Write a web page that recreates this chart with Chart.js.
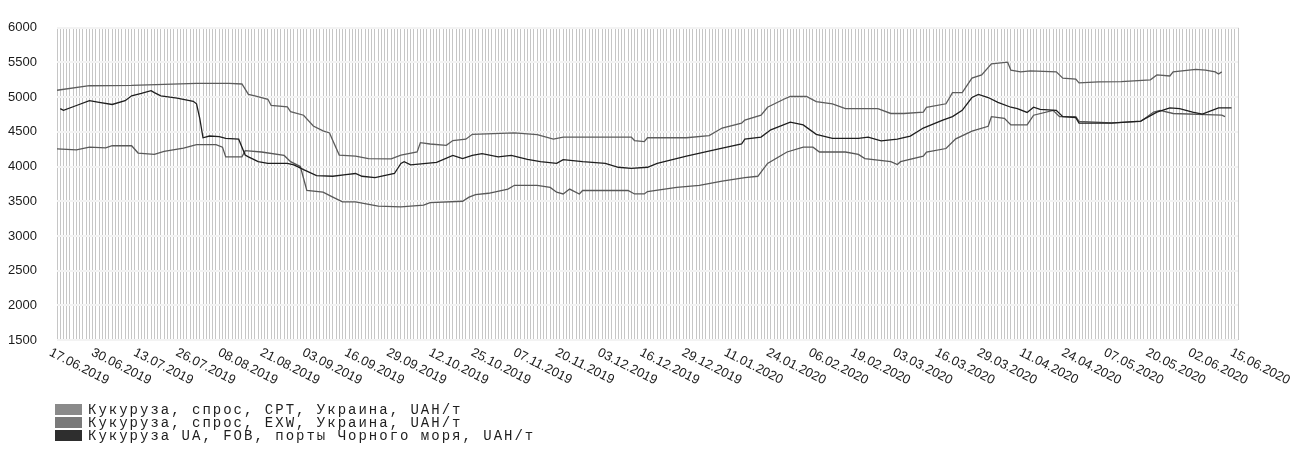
<!DOCTYPE html>
<html>
<head>
<meta charset="utf-8">
<script src="https://cdn.jsdelivr.net/npm/chart.js@4.4.1/dist/chart.umd.min.js"></script>
<style>
  html, body { margin:0; padding:0; background:#fff; overflow:hidden; }
  #wrap { position:relative; width:1302px; height:454px; }
  #legend { position:absolute; left:55px; top:404px; font:14px "Liberation Mono", "Courier New", monospace; letter-spacing:2px; color:#1e1e1e; }
  #legend .row { height:13px; line-height:13px; white-space:nowrap; }
  #legend .box { display:inline-block; width:27px; height:11px; margin-right:6px; vertical-align:-1px; }
</style>
</head>
<body>
<div id="wrap">
  <canvas id="c" width="1302" height="454"></canvas>
  <div id="legend"></div>
</div>
<script>
// ---- data ----
const seriesLabels = [
  "Кукуруза, спрос, CPT, Украина, UAH/т",
  "Кукуруза, спрос, EXW, Украина, UAH/т",
  "Кукуруза UA, FOB, порты Чорного моря, UAH/т"
];
const tickLabels = ["17.06.2019","30.06.2019","13.07.2019","26.07.2019","08.08.2019","21.08.2019","03.09.2019","16.09.2019","29.09.2019","12.10.2019","25.10.2019","07.11.2019","20.11.2019","03.12.2019","16.12.2019","29.12.2019","11.01.2020","24.01.2020","06.02.2020","19.02.2020","03.03.2020","16.03.2020","29.03.2020","11.04.2020","24.04.2020","07.05.2020","20.05.2020","02.06.2020","15.06.2020"];
const tickDays = [0,13,26,39,52,65,78,91,104,117,130,143,156,169,182,195,208,221,234,247,260,273,286,299,312,325,338,351,364];
const yTicks = [1500,2000,2500,3000,3500,4000,4500,5000,5500,6000];

const cptDays   = [0,10,23,43,53,57,59,61,65,66,71,72,76,79,82,84,85,87,92,96,103,106,111,112,115,120,122,126,128,141,148,153,156,177,178,181,182,194,201,205,211,212,217,219,224,226,231,234,239,243,253,257,261,267,268,274,276,279,282,285,288,293,294,297,300,308,310,314,315,321,328,337,339,343,344,351,354,357,358,359];
const cptValues = [5100,5165,5170,5200,5200,5190,5040,5020,4970,4880,4860,4790,4740,4585,4515,4485,4375,4165,4150,4115,4110,4165,4210,4345,4325,4305,4375,4395,4465,4485,4460,4395,4425,4425,4375,4360,4415,4415,4445,4555,4625,4670,4740,4855,4970,5010,5010,4935,4905,4835,4835,4765,4765,4785,4855,4905,5065,5065,5275,5320,5480,5505,5390,5365,5380,5365,5275,5260,5205,5220,5225,5250,5320,5305,5365,5400,5390,5365,5335,5365];

const exwDays   = [0,6,10,15,17,23,25,30,33,39,43,49,51,52,57,58,63,70,72,75,77,82,85,88,92,99,106,113,115,125,127,129,133,139,141,148,152,154,156,158,161,162,176,178,181,182,191,198,205,212,216,219,225,230,233,235,243,247,249,257,259,260,267,268,274,277,282,287,288,292,294,299,301,307,309,314,315,325,334,338,340,344,359,360];
const exwValues = [4255,4240,4280,4270,4300,4300,4195,4175,4220,4265,4315,4315,4280,4140,4140,4230,4210,4160,4070,4000,3655,3630,3560,3490,3490,3430,3420,3445,3480,3500,3560,3595,3615,3675,3730,3730,3700,3630,3605,3675,3605,3655,3655,3605,3605,3640,3700,3730,3790,3840,3860,4045,4210,4280,4280,4210,4210,4175,4115,4070,4030,4070,4150,4210,4260,4400,4510,4580,4720,4695,4600,4600,4740,4810,4720,4720,4650,4630,4650,4785,4810,4765,4740,4720];

const fobDays   = [1,2,6,10,13,17,21,23,26,29,30,32,37,42,43,44,45,47,50,52,56,58,59,62,65,71,73,76,80,85,89,92,94,98,104,106,107,109,117,122,125,128,131,136,140,145,149,154,156,162,169,173,177,182,185,194,204,211,212,217,220,226,230,234,239,247,250,254,259,263,267,273,276,279,282,284,287,290,294,296,299,301,303,308,310,314,315,325,334,339,343,346,350,353,358,362];
const fobValues = [4835,4810,4880,4950,4925,4895,4950,5020,5055,5095,5065,5020,4985,4940,4905,4695,4415,4440,4430,4405,4395,4165,4140,4070,4045,4045,4025,3955,3870,3860,3885,3900,3860,3840,3900,4045,4070,4025,4060,4160,4115,4160,4185,4140,4160,4105,4070,4045,4100,4070,4045,3990,3975,3990,4045,4150,4255,4325,4395,4425,4530,4640,4600,4465,4405,4405,4425,4370,4395,4440,4555,4670,4720,4810,4995,5040,4995,4925,4855,4835,4780,4855,4825,4810,4720,4705,4625,4625,4655,4785,4845,4835,4785,4755,4845,4845];

const lineColors   = ["#5c5c5c", "#585858", "#1e1e1e"];
const legendColors = ["#8a8a8a", "#7a7a7a", "#2e2e2e"];

function pts(days, vals) { return days.map((d, i) => ({ x: d, y: vals[i] })); }

const xLabelPlugin = {
  id: 'xLabels',
  afterDraw(chart) {
    const xs = chart.scales.x, ctx = chart.ctx, top = chart.chartArea.bottom;
    ctx.save();
    ctx.font = '13px "Liberation Sans", Arial, sans-serif';
    ctx.fillStyle = '#1a1a1a';
    ctx.textAlign = 'left';
    ctx.textBaseline = 'top';
    tickLabels.forEach((t, i) => {
      const x = xs.getPixelForValue(tickDays[i]);
      ctx.save();
      ctx.translate(x - 4, top + 6);
      ctx.rotate(27 * Math.PI / 180);
      ctx.fillText(t, 0, 0);
      ctx.restore();
    });
    ctx.restore();
  }
};

const chart = new Chart(document.getElementById('c'), {
  type: 'line',
  data: {
    datasets: [
      { label: seriesLabels[0], data: pts(cptDays, cptValues), borderColor: lineColors[0], order: 1 },
      { label: seriesLabels[1], data: pts(exwDays, exwValues), borderColor: lineColors[1], order: 1 },
      { label: seriesLabels[2], data: pts(fobDays, fobValues), borderColor: lineColors[2], order: 0 }
    ]
  },
  options: {
    responsive: false,
    animation: false,
    layout: { padding: { top: 16, right: 64, left: 0, bottom: 0 } },
    elements: { point: { radius: 0 }, line: { borderWidth: 1.3, tension: 0, fill: false } },
    plugins: { legend: { display: false }, tooltip: { enabled: false } },
    scales: {
      x: {
        type: 'linear', min: 0, max: 364,
        ticks: { stepSize: 1, display: false },
        grid: { color: '#c6c6c6', lineWidth: 1, drawTicks: false },
        border: { display: false },
        afterFit(s) { s.height = 454 - 340; }
      },
      y: {
        min: 1500, max: 6000,
        afterBuildTicks(s) { s.ticks = yTicks.map(v => ({ value: v })); },
        ticks: {
          padding: 20, color: '#1a1a1a',
          font: { family: '"Liberation Sans", Arial, sans-serif', size: 13 },
          callback: (v) => String(v)
        },
        grid: { color: '#f3f3f3', lineWidth: 2, drawTicks: false },
        border: { display: false },
        afterFit(s) { s.width = 57; }
      }
    }
  },
  plugins: [xLabelPlugin]
});

// HTML legend
const leg = document.getElementById('legend');
seriesLabels.forEach((lab, i) => {
  const row = document.createElement('div');
  row.className = 'row';
  const b = document.createElement('span');
  b.className = 'box';
  b.style.background = legendColors[i];
  row.appendChild(b);
  row.appendChild(document.createTextNode(lab));
  leg.appendChild(row);
});
</script>
</body>
</html>
